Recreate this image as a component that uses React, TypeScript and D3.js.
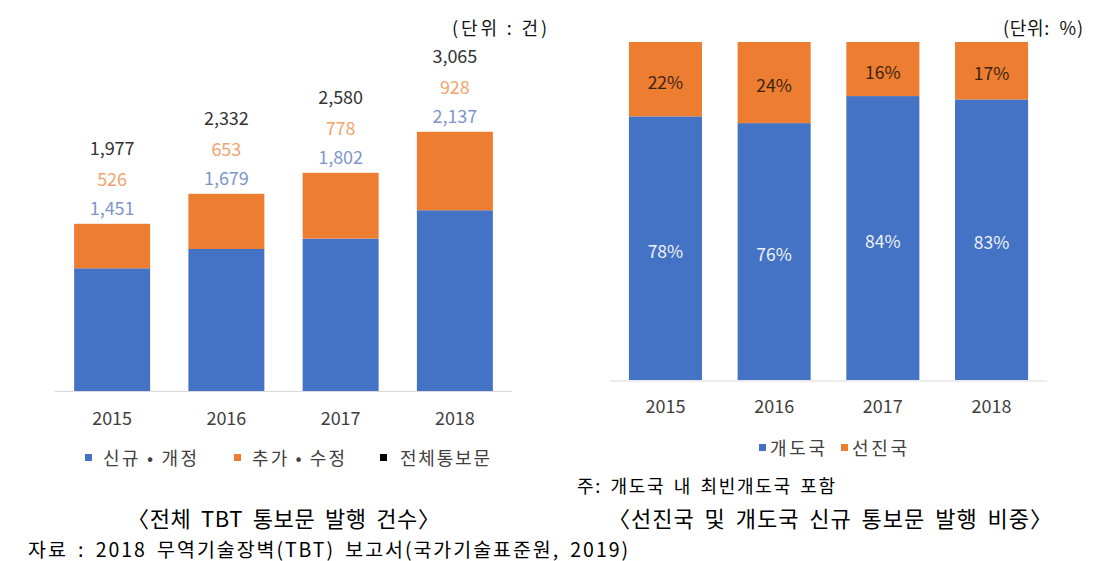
import React from "react";
import * as d3 from "d3";

const years = ["2015", "2016", "2017", "2018"];
const newRevised = [1451, 1679, 1802, 2137];
const addedModified = [526, 653, 778, 928];
const totals = [1977, 2332, 2580, 3065];
const developing = [78, 76, 84, 83];
const developed = [22, 24, 16, 17];

const BLUE = "#4472C4";
const ORANGE = "#ED7D31";
const FONT = "'Noto Sans CJK KR', 'Noto Sans', sans-serif";
const fmt = d3.format(",");

export default function App() {
  // Left chart
  const xL = d3.scaleBand<string>().domain(years).range([55, 512]).paddingInner(0.335).paddingOuter(0.1675);
  const yL = d3.scaleLinear().domain([0, 3500]).range([391, 95]);
  const leftRows = years.map((y, i) => ({ year: y, a: newRevised[i], b: addedModified[i] }));
  const leftStack = d3.stack<any>().keys(["a", "b"])(leftRows);

  // Right chart
  const xR = d3.scaleBand<string>().domain(years).range([610, 1047]).paddingInner(0.328).paddingOuter(0.174);
  const yR = d3.scaleLinear().domain([0, 100]).range([380, 42]);
  const rightRows = years.map((y, i) => ({ year: y, dev: developing[i], adv: developed[i] }));
  const rightStack = d3.stack<any>().keys(["dev", "adv"])(rightRows);

  return (
    <svg
      width={1113}
      height={561}
      style={{ position: "absolute", left: 0, top: 0, background: "#fff" }}
      fontFamily={FONT}
    >
      <rect x={0} y={0} width={1113} height={561} fill="#fff" />

      {/* ===== Left chart ===== */}
      <text x={452} y={27} dominantBaseline="central" fontSize={18} fill="#111" textLength={95} lengthAdjust="spacing" xmlSpace="preserve">(단위 : 건)</text>
      {leftStack.map((layer, li) => (
        <g key={li} fill={li === 0 ? BLUE : ORANGE}>
          {layer.map((d, i) => (
            <rect key={i} x={xL(years[i])} width={xL.bandwidth()} y={yL(d[1])} height={yL(d[0]) - yL(d[1])} />
          ))}
        </g>
      ))}
      <line x1={55} x2={512} y1={391.5} y2={391.5} stroke="#D9D9D9" strokeWidth={1} />
      {years.map((y, i) => {
        const cx = (xL(y) as number) + xL.bandwidth() / 2;
        const top = yL(totals[i]);
        return (
          <g key={y} fontSize={18} textAnchor="middle" dominantBaseline="central">
            <text x={cx} y={top - 17} fill="#7E95CC">{fmt(newRevised[i])}</text>
            <text x={cx} y={top - 46} fill="#F2A46E">{fmt(addedModified[i])}</text>
            <text x={cx} y={top - 77} fill="#333">{fmt(totals[i])}</text>
            <text x={cx} y={417} fill="#404040">{y}</text>
          </g>
        );
      })}
      {/* legend left */}
      <g fontSize={18} dominantBaseline="central" fill="#404040">
        <rect x={85} y={454} width={7} height={7} fill={BLUE} />
        <text x={103} y={457} textLength={94} lengthAdjust="spacing" xmlSpace="preserve">신규 • 개정</text>
        <rect x={234} y={454} width={7} height={7} fill={ORANGE} />
        <text x={252} y={457} textLength={93} lengthAdjust="spacing" xmlSpace="preserve">추가 • 수정</text>
        <rect x={380} y={454} width={7} height={7} fill="#000" />
        <text x={400} y={457} textLength={90} lengthAdjust="spacing">전체통보문</text>
      </g>
      <text x={127} y={517} dominantBaseline="central" fontSize={22} fill="#000" textLength={313} lengthAdjust="spacing" wordSpacing={4} xmlSpace="preserve">〈전체 TBT 통보문 발행 건수〉</text>
      <text x={28} y={548} dominantBaseline="central" fontSize={19.5} fill="#000" textLength={600} lengthAdjust="spacing" wordSpacing={4} xmlSpace="preserve">자료 : 2018 무역기술장벽(TBT) 보고서(국가기술표준원, 2019)</text>

      {/* ===== Right chart ===== */}
      <text x={1003} y={27} dominantBaseline="central" fontSize={18} fill="#111" textLength={80} lengthAdjust="spacing" xmlSpace="preserve">(단위:  %)</text>
      {rightStack.map((layer, li) => (
        <g key={li} fill={li === 0 ? BLUE : ORANGE}>
          {layer.map((d, i) => (
            <rect key={i} x={xR(years[i])} width={xR.bandwidth()} y={yR(d[1])} height={yR(d[0]) - yR(d[1])} />
          ))}
        </g>
      ))}
      {rightStack.map((layer, li) => (
        <g key={"l" + li} fontSize={17.5} textAnchor="middle" dominantBaseline="central" fill={li === 0 ? "#EEF2FA" : "#3A2410"}>
          {layer.map((d, i) => (
            <text key={i} x={(xR(years[i]) as number) + xR.bandwidth() / 2} y={(yR(d[0]) + yR(d[1])) / 2 + 2}>
              {(li === 0 ? developing[i] : developed[i]) + "%"}
            </text>
          ))}
        </g>
      ))}
      <line x1={610} x2={1047} y1={381} y2={381} stroke="#D9D9D9" strokeWidth={1} />
      {years.map((y) => (
        <text key={y} x={(xR(y) as number) + xR.bandwidth() / 2} y={405} textAnchor="middle" dominantBaseline="central" fontSize={18} fill="#404040">{y}</text>
      ))}
      <g fontSize={18} dominantBaseline="central" fill="#404040">
        <rect x={759} y={444} width={7} height={7} fill={BLUE} />
        <text x={770} y={447} textLength={55} lengthAdjust="spacing">개도국</text>
        <rect x={841} y={444} width={7} height={7} fill={ORANGE} />
        <text x={852} y={447} textLength={55} lengthAdjust="spacing">선진국</text>
      </g>
      <text x={577} y={485} dominantBaseline="central" fontSize={18} fill="#000" textLength={258} lengthAdjust="spacing" wordSpacing={3} xmlSpace="preserve">주: 개도국 내 최빈개도국 포함</text>
      <text x={608} y={517} dominantBaseline="central" fontSize={22} fill="#000" textLength={444} lengthAdjust="spacing" wordSpacing={4} xmlSpace="preserve">〈선진국 및 개도국 신규 통보문 발행 비중〉</text>
    </svg>
  );
}
